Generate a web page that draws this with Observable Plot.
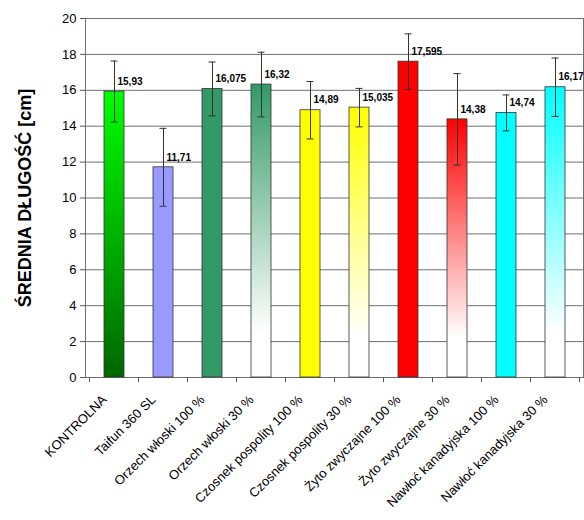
<!DOCTYPE html>
<html><head><meta charset="utf-8">
<script src="https://cdn.jsdelivr.net/npm/d3@7"></script>
<script src="https://cdn.jsdelivr.net/npm/@observablehq/plot@0.6"></script>
<style>body{margin:0;background:#fff;} svg{overflow:visible;}</style>
</head><body><div id="chart"></div>
<script>
const categories = ["KONTROLNA","Taifun 360 SL","Orzech włoski 100 %","Orzech włoski 30 %","Czosnek pospolity 100 %","Czosnek pospolity 30 %","Żyto zwyczajne 100 %","Żyto zwyczajne 30 %","Nawłoć kanadyjska 100 %","Nawłoć kanadyjska 30 %"];
const means = [15.93, 11.71, 16.075, 16.32, 14.89, 15.035, 17.595, 14.38, 14.74, 16.17];
const errors = [1.7, 2.17, 1.5, 1.8, 1.6, 1.07, 1.55, 2.55, 1.0, 1.63];
const valueLabels = ["15,93","11,71","16,075","16,32","14,89","15,035","17,595","14,38","14,74","16,17"];
const topColors = ["#00ff00","#9999ff","#339966","#339966","#ffff00","#ffff00","#ff0000","#ff0000","#00ffff","#00ffff"];
const bottomColors = ["#006600","#9999ff","#339966","#ffffff","#ffff00","#ffffff","#ff0000","#ffffff","#00ffff","#ffffff"];
const yTicks = [0,2,4,6,8,10,12,14,16,18,20];
const yTitle = "ŚREDNIA DŁUGOŚĆ [cm]";

const data = categories.map((c, i) => ({
  cat: c, mean: means[i], err: errors[i], label: valueLabels[i], fill: `url(#grad${i})`
}));

const font = "'Liberation Sans', Arial, sans-serif";
const chart = Plot.plot({
  width: 584, height: 520,
  marginLeft: 85, marginRight: 1, marginTop: 18, marginBottom: 143,
  style: {fontFamily: font, fontSize: "13px", background: "#fff", color: "#000"},
  x: {domain: categories, paddingInner: 0.6, paddingOuter: 0.3, label: null},
  y: {domain: [0, 20], label: null},
  color: {type: "identity"},
  marks: [
    Plot.gridY(yTicks, {stroke: "#6e6e6e", strokeOpacity: 1}),
    Plot.frame({stroke: "#6e6e6e"}),
    Plot.ruleX([0], {frameAnchor: "left", stroke: "#555"}),
    Plot.barY(data, {x: "cat", y: "mean", fill: "fill", stroke: "#333", strokeWidth: 0.8}),
    Plot.ruleX(data, {x: "cat", y1: d => d.mean - d.err, y2: d => d.mean + d.err, stroke: "#333"}),
    Plot.tickY(data, {x: "cat", y: d => d.mean - d.err, insetLeft: 6.5, insetRight: 6.5, stroke: "#333"}),
    Plot.tickY(data, {x: "cat", y: d => d.mean + d.err, insetLeft: 6.5, insetRight: 6.5, stroke: "#333"}),
    Plot.text(data, {x: "cat", y: "mean", text: "label", textAnchor: "start", dx: 3, dy: -10, fontWeight: "bold", fontSize: 10}),
    Plot.axisY(yTicks, {tickSize: 5, tickPadding: 4, label: null, fontSize: 13, stroke: "#555"}),
    Plot.axisX({tickRotate: -45, tickSize: 0, tickPadding: 10, dx: -10, dy: 10, label: null, fontSize: 13}),
    Plot.text([yTitle], {frameAnchor: "left", textAnchor: "middle", rotate: -90, dx: -60, fontWeight: "bold", fontSize: 18})
  ]
});
document.getElementById("chart").appendChild(chart);

const svg = d3.select(chart);
const defs = svg.insert("defs", ":first-child");
categories.forEach((c, i) => {
  const g = defs.append("linearGradient").attr("id", `grad${i}`)
    .attr("x1", 0).attr("y1", 0).attr("x2", 0).attr("y2", 1);
  const fadeToWhite = bottomColors[i] === "#ffffff";
  g.append("stop").attr("offset", "0%").attr("stop-color", topColors[i]);
  g.append("stop").attr("offset", fadeToWhite ? "85%" : "100%").attr("stop-color", bottomColors[i]);
  if (fadeToWhite) g.append("stop").attr("offset", "100%").attr("stop-color", bottomColors[i]);
});

// category boundary tick marks on the x axis
const sx = chart.scale("x"), sy = chart.scale("y");
const y0 = sy.apply(0);
const bounds = categories.map(c => sx.apply(c) + sx.bandwidth / 2 - sx.step / 2)
  .concat([sx.apply(categories[categories.length - 1]) + sx.bandwidth / 2 + sx.step / 2]);
svg.append("g").selectAll("line").data(bounds).join("line")
  .attr("x1", d => d).attr("x2", d => d).attr("y1", y0).attr("y2", y0 + 5)
  .attr("stroke", "#555");
</script>
</body></html>
